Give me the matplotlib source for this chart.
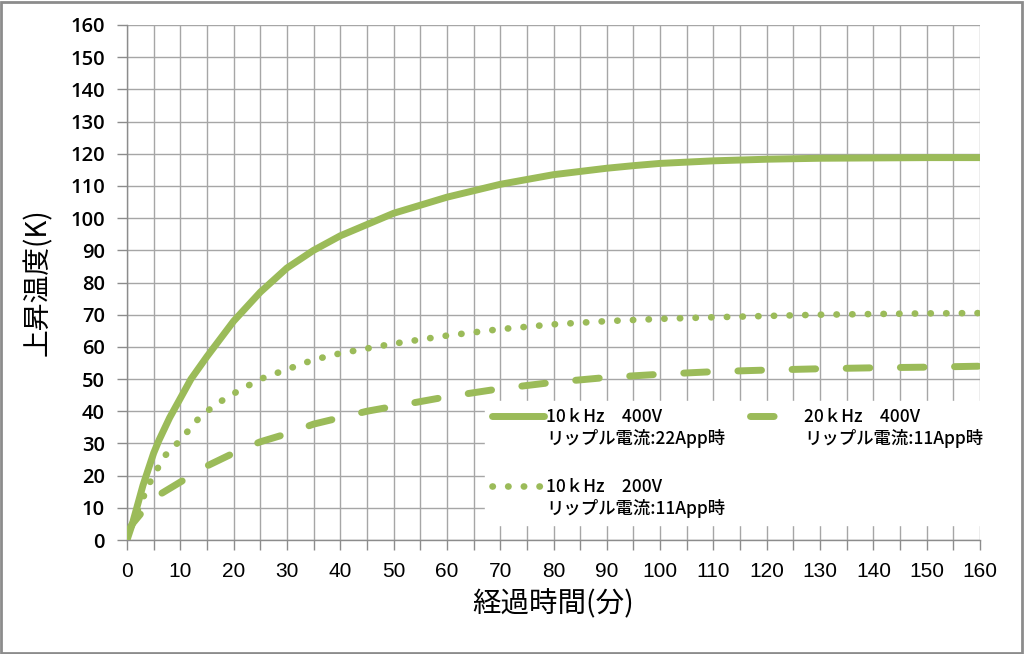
import matplotlib
matplotlib.use("Agg")
import matplotlib.pyplot as plt
from matplotlib.lines import Line2D
from matplotlib.legend_handler import HandlerLine2D
from matplotlib.patches import Rectangle
import numpy as np

plt.rcParams['font.family'] = ['Noto Sans CJK JP', 'DejaVu Sans']

# ---- data ----
t_a = [0, 1, 2, 3, 4, 5, 6, 8, 10, 12, 15, 20, 25, 30, 35, 40, 45, 50, 55, 60,
       65, 70, 75, 80, 85, 90, 95, 100, 110, 120, 130, 140, 150, 160]
temp_a = [0, 5, 11, 17, 22, 27, 31, 38, 44, 50, 57, 68, 77, 84.5, 90, 94.5, 98,
          101.5, 104, 106.5, 108.5, 110.5, 112, 113.5, 114.5, 115.5, 116.3, 117,
          117.8, 118.3, 118.6, 118.7, 118.8, 118.8]

t_b = [0, 1, 2, 3, 4, 5, 7, 10, 13, 15, 18, 20, 25, 30, 35, 40, 45, 50, 60, 70,
       80, 90, 100, 110, 120, 130, 140, 150, 160]
temp_b = [0, 5, 9, 13, 17, 20, 26, 31, 37, 40, 43.5, 45.5, 50, 53, 56, 58, 59.5,
          61, 63.5, 65.5, 67, 68, 68.7, 69.2, 69.6, 70, 70.2, 70.4, 70.5]

t_c = [0, 1, 2, 3, 5, 8, 10, 15, 20, 25, 30, 35, 40, 45, 50, 60, 70, 80, 90, 100,
       110, 120, 130, 140, 150, 160]
temp_c = [2, 5, 7, 9, 13, 16, 18, 23, 27, 30.5, 33, 36, 38, 40, 41.5, 44.5, 47,
          49, 50.5, 51.5, 52.3, 52.8, 53.2, 53.5, 53.7, 54]

labels = ["10ｋHz　400V\nリップル電流:22App時",
          "10ｋHz　200V\nリップル電流:11App時",
          "20ｋHz　400V\nリップル電流:11App時"]

xticks = list(range(0, 161, 10))
yticks = list(range(0, 161, 10))

green = '#9BBB59'
gridc = '#A6A6A6'
edgec = '#8C8C8C'

lw_solid = 5.0
lw_dot = 4.8
lw_dash = 5.0
dot_style = (0, (0.05, 2.3))
dash_style = (0, (3.4, 4.4))

fig = plt.figure(figsize=(10.24, 6.54), dpi=100)
ax = fig.add_axes([127/1024, 1-540/654, (980-127)/1024, (540-25)/654])

ax.plot(t_a, temp_a, color=green, lw=lw_solid, solid_capstyle='round',
        solid_joinstyle='round', zorder=3)
ax.plot(t_b, temp_b, color=green, lw=lw_dot, linestyle=dot_style,
        dash_capstyle='round', zorder=3)
ax.plot(t_c, temp_c, color=green, lw=lw_dash, linestyle=dash_style,
        dash_capstyle='round', zorder=3)

ax.set_xlim(0, 160)
ax.set_ylim(0, 160)
ax.set_xticks(xticks)
ax.set_xticks(np.arange(5, 160, 10), minor=True)
ax.set_yticks(yticks)
ax.set_xticklabels([str(v) for v in xticks], fontsize=15,
                   family=['Liberation Sans', 'DejaVu Sans'])
ax.set_yticklabels([str(v) for v in yticks], fontsize=14.5,
                   family=['Open Sans', 'DejaVu Sans'], fontweight='semibold')

ax.grid(True, which='both', axis='x', color=gridc, lw=1, zorder=0)
ax.grid(True, which='major', axis='y', color=gridc, lw=1, zorder=0)
ax.set_axisbelow(True)

for s in ['top', 'right']:
    ax.spines[s].set_visible(False)
for s in ['left', 'bottom']:
    ax.spines[s].set_color(edgec)
    ax.spines[s].set_linewidth(1)

ax.tick_params(axis='both', which='both', color=edgec, length=7, width=1,
               direction='out', labelcolor='black')
ax.tick_params(axis='x', pad=9)
ax.tick_params(axis='y', pad=9)

ax.set_xlabel("経過時間(分)", fontsize=20.5, labelpad=6)
ax.set_ylabel("上昇温度(K)", fontsize=20, labelpad=12)


class UpHandler(HandlerLine2D):
    def create_artists(self, legend, orig_handle, xdescent, ydescent, width,
                       height, fontsize, trans):
        arts = super().create_artists(legend, orig_handle, xdescent, ydescent,
                                      width, height, fontsize, trans)
        for a in arts:
            a.set_ydata(np.asarray(a.get_ydata()) + 0.75 * fontsize)
        return arts


handles = [Line2D([], [], color=green, lw=lw_solid, solid_capstyle='round'),
           Line2D([], [], color=green, lw=lw_dot, linestyle=dot_style,
                  dash_capstyle='round'),
           Line2D([], [], color=green, lw=lw_dash, linestyle=dash_style,
                  dash_capstyle='round')]
leg = ax.legend(handles, labels, ncol=2, loc='upper left',
                bbox_to_anchor=(0.409, 0.286), frameon=True, fancybox=False,
                edgecolor='white', facecolor='white', framealpha=1,
                prop={'size': 12.5, 'weight': 'medium'}, handlelength=3.0,
                handletextpad=0.15, columnspacing=1.4, labelspacing=1.7,
                borderpad=0.4,
                handler_map={Line2D: UpHandler()})
leg.set_zorder(5)

fig.add_artist(Rectangle((0.001, 0.002), 0.997, 0.995, transform=fig.transFigure,
                         fill=False, edgecolor=edgec, lw=2))

fig.savefig('out.png', dpi=100)
